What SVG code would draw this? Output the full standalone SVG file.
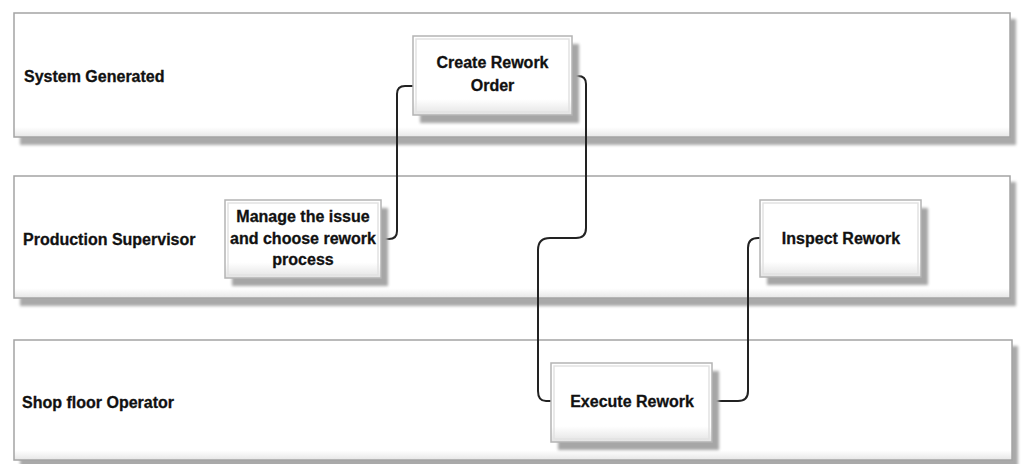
<svg xmlns="http://www.w3.org/2000/svg" width="1027" height="464" viewBox="0 0 1027 464">
<defs>
<filter id="blur" x="-5%" y="-20%" width="110%" height="140%"><feGaussianBlur stdDeviation="1.4"/></filter>
<linearGradient id="ng" x1="0" y1="0" x2="0" y2="1">
<stop offset="0" stop-color="#ffffff"/><stop offset="0.8" stop-color="#ffffff"/><stop offset="1" stop-color="#e3e3e3"/>
</linearGradient>
<linearGradient id="lg" x1="0" y1="0" x2="0" y2="1">
<stop offset="0" stop-color="#ffffff"/><stop offset="0.92" stop-color="#ffffff"/><stop offset="1" stop-color="#e6e6e6"/>
</linearGradient>
</defs>
<style>
.lane{fill:url(#lg);stroke:#a4a4a4;stroke-width:1.5}
.lshadow{fill:#a9a9a9;filter:url(#blur)}
.node{fill:url(#ng);stroke:#b4b4b4;stroke-width:1.5}
.nshadow{fill:#a6a6a6;filter:url(#blur)}
.inner{fill:none;stroke:#e2e2e2;stroke-width:1.5}
.t{font-family:"Liberation Sans",Arial,sans-serif;font-weight:bold;font-size:16px;fill:#111;stroke:#111;stroke-width:0.3}
.c{text-anchor:middle}
.conn{fill:none;stroke:#222;stroke-width:2}
</style>
<rect width="1027" height="464" fill="#ffffff"/>
<g id="lane-system">
<rect class="lshadow" x="20" y="19" width="996" height="126"/>
<rect class="lane" x="14" y="13" width="996" height="124"/>
<text class="t" x="24" y="82">System Generated</text>
</g>
<g id="lane-supervisor">
<rect class="lshadow" x="20" y="182" width="996" height="124"/>
<rect class="lane" x="14" y="176" width="996" height="122"/>
<text class="t" x="23" y="245">Production Supervisor</text>
</g>
<g id="lane-operator">
<rect class="lshadow" x="20" y="346" width="998" height="124"/>
<rect class="lane" x="14" y="340" width="998" height="120"/>
<text class="t" x="22" y="408">Shop floor Operator</text>
</g>
<g id="connectors">
<path class="conn" d="M381,239 H389 Q397,239 397,231 V94 Q397,86 405,86 H413"/>
<path class="conn" d="M572,76 H578 Q586,76 586,84 V228 Q586,238 576,238 H550 Q538,238 538,250 V391 Q538,401 546,401 H551"/>
<path class="conn" d="M712,401 H738 Q748,401 748,391 V248 Q748,238 758,238 H760"/>
</g>
<g id="node-create">
<rect class="nshadow" x="420" y="44" width="159" height="79"/>
<rect class="node" x="413" y="36" width="159" height="79"/>
<rect class="inner" x="416" y="39" width="153" height="73"/>
<text class="t c" x="492.5" y="68">Create Rework</text>
<text class="t c" x="492.5" y="90.5">Order</text>
</g>
<g id="node-manage">
<rect class="nshadow" x="232" y="208" width="156" height="78"/>
<rect class="node" x="225" y="200" width="156" height="78"/>
<rect class="inner" x="228" y="203" width="150" height="72"/>
<text class="t c" x="303" y="222">Manage the issue</text>
<text class="t c" x="303" y="243.5">and choose rework</text>
<text class="t c" x="303" y="265">process</text>
</g>
<g id="node-inspect">
<rect class="nshadow" x="767" y="208" width="161" height="77"/>
<rect class="node" x="760" y="200" width="161" height="77"/>
<rect class="inner" x="763" y="203" width="155" height="71"/>
<text class="t c" x="841" y="244">Inspect Rework</text>
</g>
<g id="node-execute">
<rect class="nshadow" x="558" y="371" width="161" height="79"/>
<rect class="node" x="551" y="363" width="161" height="79"/>
<rect class="inner" x="554" y="366" width="155" height="73"/>
<text class="t c" x="632" y="407">Execute Rework</text>
</g>
</svg>
